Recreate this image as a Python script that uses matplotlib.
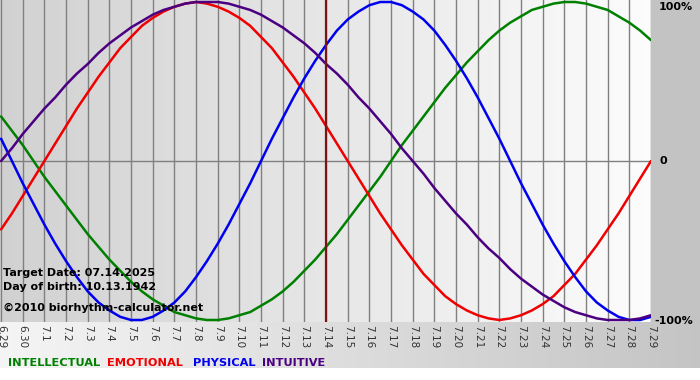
'''
Biorhythm chart, 6.29 - 7.29
'''

import numpy as np
import matplotlib
matplotlib.use("Agg")
import matplotlib.pyplot as plt

# tick labels, one per day
days = ["6.29", "6.30"] + ["7.%d" % d for d in range(1, 30)]
target_idx = 15  # 7.14

# values (-1 .. 1), every half day from 6.29 to 7.29
intellectual = [0.28, 0.19, 0.10, 0.00, -0.10, -0.19, -0.28, -0.37, -0.46, -0.54,
                -0.62, -0.69, -0.76, -0.82, -0.87, -0.91, -0.95, -0.97, -0.99, -1.00,
                -1.00, -0.99, -0.97, -0.95, -0.91, -0.87, -0.82, -0.76, -0.69, -0.62,
                -0.54, -0.46, -0.37, -0.28, -0.19, -0.10, 0.00, 0.10, 0.19, 0.28,
                0.37, 0.46, 0.54, 0.62, 0.69, 0.76, 0.82, 0.87, 0.91, 0.95,
                0.97, 0.99, 1.00, 1.00, 0.99, 0.97, 0.95, 0.91, 0.87, 0.82,
                0.76]
emotional = [-0.43, -0.33, -0.22, -0.11, 0.00, 0.11, 0.22, 0.33, 0.43, 0.53,
             0.62, 0.71, 0.78, 0.85, 0.90, 0.94, 0.97, 0.99, 1.00, 0.99,
             0.97, 0.94, 0.90, 0.85, 0.78, 0.71, 0.62, 0.53, 0.43, 0.33,
             0.22, 0.11, 0.00, -0.11, -0.22, -0.33, -0.43, -0.53, -0.62, -0.71,
             -0.78, -0.85, -0.90, -0.94, -0.97, -0.99, -1.00, -0.99, -0.97, -0.94,
             -0.90, -0.85, -0.78, -0.71, -0.62, -0.53, -0.43, -0.33, -0.22, -0.11,
             0.00]
physical = [0.14, 0.00, -0.14, -0.27, -0.40, -0.52, -0.63, -0.73, -0.82, -0.89,
            -0.94, -0.98, -1.00, -1.00, -0.98, -0.94, -0.89, -0.82, -0.73, -0.63,
            -0.52, -0.40, -0.27, -0.14, 0.00, 0.14, 0.27, 0.40, 0.52, 0.63,
            0.73, 0.82, 0.89, 0.94, 0.98, 1.00, 1.00, 0.98, 0.94, 0.89,
            0.82, 0.73, 0.63, 0.52, 0.40, 0.27, 0.14, 0.00, -0.14, -0.27,
            -0.40, -0.52, -0.63, -0.73, -0.82, -0.89, -0.94, -0.98, -1.00, -1.00,
            -0.98]
intuitive = [0.00, 0.08, 0.17, 0.25, 0.33, 0.40, 0.48, 0.55, 0.61, 0.68,
             0.74, 0.79, 0.84, 0.88, 0.92, 0.95, 0.97, 0.99, 1.00, 1.00,
             1.00, 0.99, 0.97, 0.95, 0.92, 0.88, 0.84, 0.79, 0.74, 0.68,
             0.61, 0.55, 0.48, 0.40, 0.33, 0.25, 0.17, 0.08, 0.00, -0.08,
             -0.17, -0.25, -0.33, -0.40, -0.48, -0.55, -0.61, -0.68, -0.74, -0.79,
             -0.84, -0.88, -0.92, -0.95, -0.97, -0.99, -1.00, -1.00, -1.00, -0.99,
             -0.97]

series = [("INTELLECTUAL", intellectual, "#008000"),
          ("EMOTIONAL", emotional, "#f00000"),
          ("PHYSICAL", physical, "#0000f0"),
          ("INTUITIVE", intuitive, "#4b0082")]
legend_x = [8, 107, 193, 262]

W, H = 700, 380
PW, PH = 651, 322  # plot area in pixels

fig = plt.figure(figsize=(7, 3.8), dpi=100)

# background picture for whole figure
bg = np.ones((H, W, 3))
xs = np.linspace(0, 1, PW)
plot_bg = 0.82 + 0.17 * xs
bg[:PH, :PW, :] = plot_bg[None, :, None]
bg[:PH, PW:, :] = 0.765
strip = 0.96 - 0.19 * np.linspace(0, 1, W)
bg[PH:368, :, :] = strip[None, :, None]
bg_ax = fig.add_axes([0, 0, 1, 1])
bg_ax.imshow(bg, aspect="auto", extent=(0, W, H, 0), interpolation="bilinear")
bg_ax.set_axis_off()

ax = fig.add_axes([0, (H - PH) / H, PW / W, PH / H])
ax.patch.set_alpha(0)
x = np.arange(len(days))
xh = np.arange(len(physical)) / 2
ax.set_xlim(-0.05, 30.0)
ax.set_ylim(-1.0126, 1.0126)

ax.set_xticks(x)
ax.set_xticklabels(days, rotation=-90, fontsize=7.5, color="#333333")
ax.tick_params(axis="x", length=0, pad=2)
ax.set_yticks([])
ax.grid(axis="x", color="#808080", lw=1)
ax.axhline(0, color="#808080", lw=1)
for s in ax.spines.values():
    s.set_visible(False)

for name, vals, col in series:
    ax.plot(xh, vals, color=col, lw=1.8, solid_capstyle="round", solid_joinstyle="round")

ax.axvline(target_idx, color="#7a1515", lw=1.6)

# info text
txt = dict(fontsize=8, fontweight="bold", color="#000000", family="DejaVu Sans")
fig.text(3 / W, 1 - 276 / H, "Target Date: 07.14.2025", **txt)
fig.text(3 / W, 1 - 290 / H, "Day of birth: 10.13.1942", **txt)
fig.text(3 / W, 1 - 311 / H, "\u00a92010 biorhythm-calculator.net", **txt)

# right side scale labels
fig.text(659 / W, 1 - 7 / H, "100%", va="center", **txt)
fig.text(659 / W, 1 - 161 / H, "0", va="center", **txt)
fig.text(654 / W, 1 - 321 / H, "-100%", va="center", **txt)

# legend
for (name, vals, col), lx in zip(series, legend_x):
    fig.text(lx / W, 1 - 366 / H, name, fontsize=8.2, fontweight="bold", color=col)

fig.savefig("out.png", dpi=100)
